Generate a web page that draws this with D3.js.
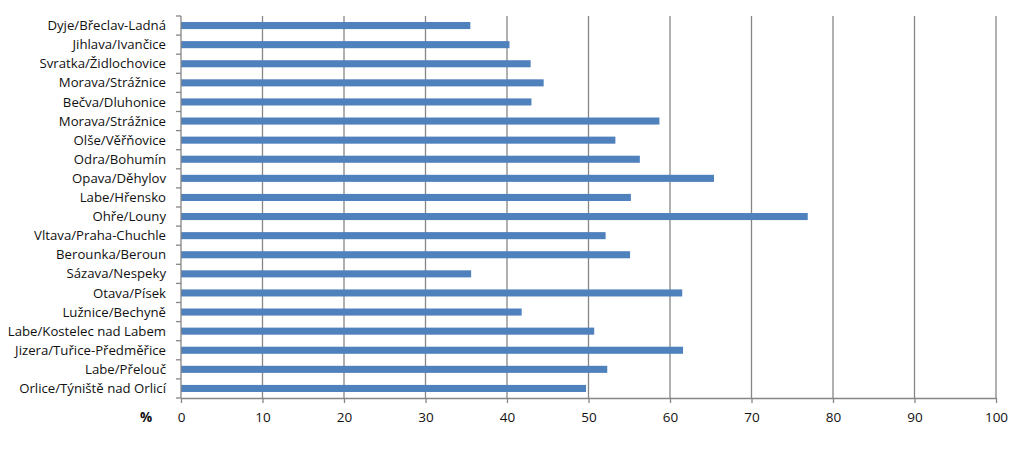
<!DOCTYPE html>
<html>
<head>
<meta charset="utf-8">
<script src="https://cdn.jsdelivr.net/npm/d3@7"></script>
<style>
  body { margin: 0; background: #fff; }
  text { font-family: "Open Sans", "Noto Sans", sans-serif; fill: #111; }
</style>
</head>
<body>
<div id="chart"></div>
<script>
// stations, top to bottom
const stations = [
  'Dyje/Břeclav-Ladná', 'Jihlava/Ivančice', 'Svratka/Židlochovice', 'Morava/Strážnice',
  'Bečva/Dluhonice', 'Morava/Strážnice ', 'Olše/Věřňovice', 'Odra/Bohumín',
  'Opava/Děhylov', 'Labe/Hřensko', 'Ohře/Louny', 'Vltava/Praha-Chuchle',
  'Berounka/Beroun', 'Sázava/Nespeky', 'Otava/Písek', 'Lužnice/Bechyně',
  'Labe/Kostelec nad Labem', 'Jizera/Tuřice-Předměřice', 'Labe/Přelouč', 'Orlice/Týniště nad Orlicí'
];
const values = [
  35.5, 40.3, 42.9, 44.5,
  43.0, 58.7, 53.3, 56.3,
  65.4, 55.2, 76.9, 52.1,
  55.1, 35.6, 61.5, 41.8,
  50.7, 61.6, 52.3, 49.7
];
const xTicks = [0, 10, 20, 30, 40, 50, 60, 70, 80, 90, 100];
const unitLabel = '%';

const width = 1024, height = 468;
const margin = { top: 16, right: 28, bottom: 70, left: 181 };

const svg = d3.select('#chart').append('svg')
  .attr('width', width).attr('height', height);

const x = d3.scaleLinear().domain([0, 100]).range([margin.left, width - margin.right]);
const y = d3.scaleBand().domain(stations).range([margin.top, height - margin.bottom]).paddingInner(0.63).paddingOuter(0.315);

const grey = '#868686';

// vertical gridlines
svg.append('g')
  .selectAll('line')
  .data(xTicks.filter(d => d > 0))
  .join('line')
  .attr('x1', d => x(d)).attr('x2', d => x(d))
  .attr('y1', margin.top).attr('y2', height - margin.bottom)
  .attr('stroke', grey).attr('stroke-width', 1.3);

// bars
svg.append('g')
  .selectAll('rect')
  .data(stations)
  .join('rect')
  .attr('x', x(0))
  .attr('y', d => y(d))
  .attr('width', (d, i) => x(values[i]) - x(0))
  .attr('height', y.bandwidth())
  .attr('fill', '#4F81BD');

// x axis
const gx = svg.append('g')
  .attr('transform', `translate(0,${height - margin.bottom})`)
  .call(d3.axisBottom(x).tickValues(xTicks).tickSize(5).tickPadding(9).tickSizeOuter(0));
gx.select('.domain').attr('stroke', grey).attr('stroke-width', 1.3);
gx.selectAll('.tick line').attr('stroke', grey).attr('stroke-width', 1.3);
gx.selectAll('.tick text').style('font-size', '13.5px').attr('fill', '#111');

// y axis with boundary ticks
const step = y.step();
const gy = svg.append('g').attr('transform', `translate(${x(0)},0)`);
gy.append('line')
  .attr('y1', margin.top).attr('y2', height - margin.bottom)
  .attr('stroke', grey).attr('stroke-width', 1.3);
gy.selectAll('.bt')
  .data(d3.range(stations.length + 1))
  .join('line')
  .attr('class', 'bt')
  .attr('x1', -5).attr('x2', 0)
  .attr('y1', i => margin.top + i * step).attr('y2', i => margin.top + i * step)
  .attr('stroke', grey).attr('stroke-width', 1.3);
gy.selectAll('text')
  .data(stations)
  .join('text')
  .attr('x', -15)
  .attr('y', d => y(d) + y.bandwidth() / 2)
  .attr('dy', '0.35em')
  .attr('text-anchor', 'end')
  .style('font-size', '13.2px')
  .text(d => d.trim());

// unit label
svg.append('text')
  .attr('x', 146).attr('y', height - margin.bottom + 24)
  .attr('text-anchor', 'middle')
  .style('font-size', '13.5px')
  .style('font-weight', 'bold')
  .text(unitLabel);
</script>
</body>
</html>
